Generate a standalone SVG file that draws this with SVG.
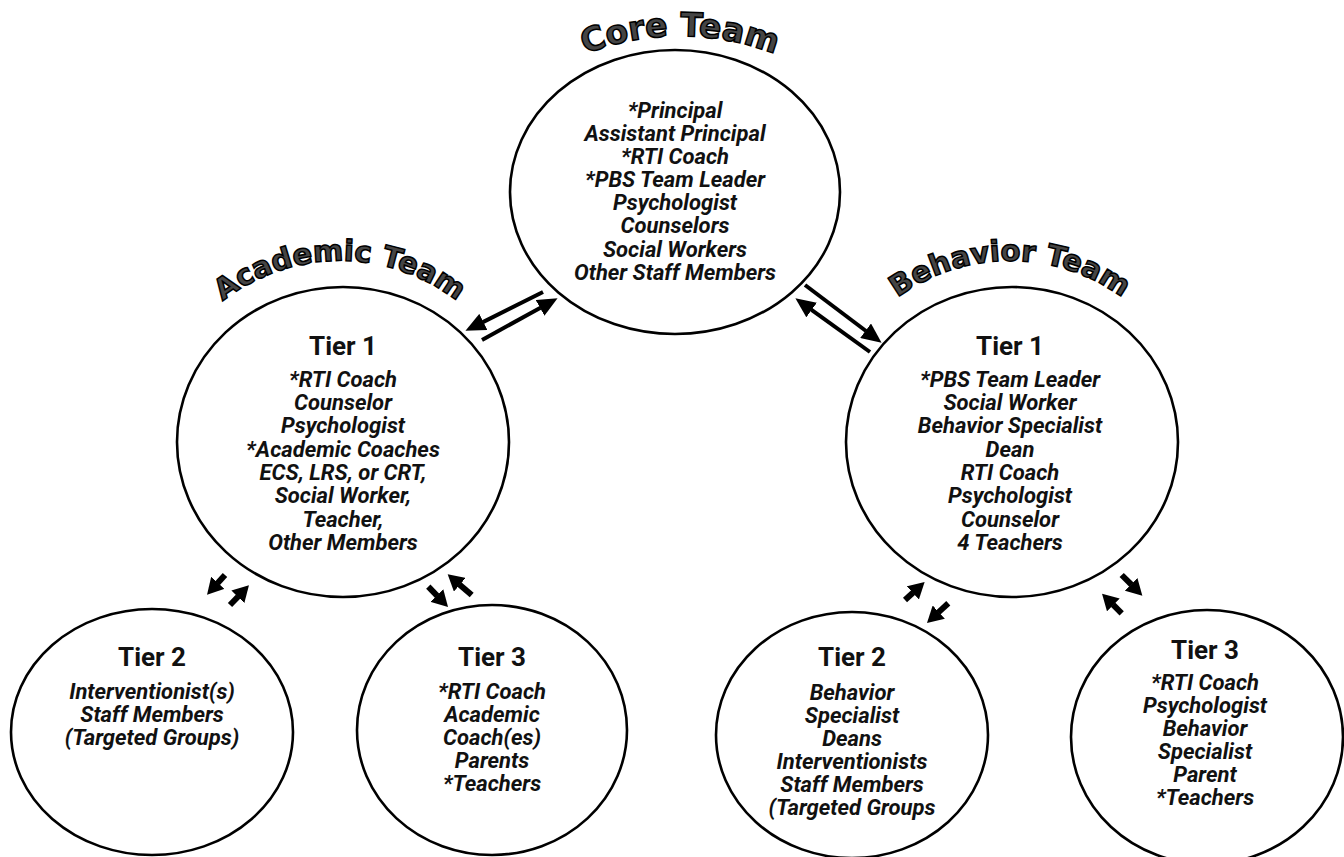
<svg xmlns="http://www.w3.org/2000/svg" width="1344" height="857" viewBox="0 0 1344 857">
<style>
.node ellipse{fill:#fff;stroke:#000;stroke-width:2.6}
.item{font-family:Roboto,"Liberation Sans",sans-serif;font-weight:bold;font-style:italic;font-size:22px;fill:#111;text-anchor:middle}
.head{font-family:Roboto,"Liberation Sans",sans-serif;font-weight:bold;font-size:26px;fill:#111;text-anchor:middle}
.title{font-family:"DejaVu Sans",sans-serif;font-weight:bold;fill:#454545;stroke:#000;stroke-width:1.5;text-anchor:middle}
.big{stroke:#000;stroke-width:4;fill:none;marker-end:url(#hb)}
.small{stroke:#000;stroke-width:6;fill:none;marker-end:url(#hs)}
</style>
<defs>
<marker id="hb" markerUnits="userSpaceOnUse" markerWidth="20" markerHeight="18" refX="0.5" refY="9" orient="auto"><path d="M0,0 L20,9 L0,18 Z" fill="#000"/></marker>
<marker id="hs" markerUnits="userSpaceOnUse" markerWidth="16" markerHeight="18" refX="0.5" refY="9" orient="auto"><path d="M0,0 L16,9 L0,18 Z" fill="#000"/></marker>
<path id="arcCore" d="M480,130 A260,260 0 0,1 880,130"/>
<path id="arcAcad" d="M160,390 A190,190 0 0,1 520,390"/>
<path id="arcBeh" d="M830,390 A190,190 0 0,1 1190,390"/>
</defs>
<rect width="1344" height="857" fill="#fff"/>

<g id="titles">
<text class="title" font-size="33"><textPath href="#arcCore" startOffset="50%">Core Team</textPath></text>
<text class="title" font-size="29"><textPath href="#arcAcad" startOffset="50%">Academic Team</textPath></text>
<text class="title" font-size="29"><textPath href="#arcBeh" startOffset="50%">Behavior Team</textPath></text>
</g>

<g id="core" class="node">
<ellipse cx="675" cy="192" rx="165" ry="142"/>
<text class="item" x="675" y="118">*Principal</text>
<text class="item" x="675" y="141">Assistant Principal</text>
<text class="item" x="675" y="164">*RTI Coach</text>
<text class="item" x="675" y="187">*PBS Team Leader</text>
<text class="item" x="675" y="210">Psychologist</text>
<text class="item" x="675" y="233">Counselors</text>
<text class="item" x="675" y="257">Social Workers</text>
<text class="item" x="675" y="280">Other Staff Members</text>
</g>

<g id="academic-tier1" class="node">
<ellipse cx="343" cy="442" rx="166" ry="155"/>
<text class="head" x="343" y="355">Tier 1</text>
<text class="item" x="343" y="387">*RTI Coach</text>
<text class="item" x="343" y="410">Counselor</text>
<text class="item" x="343" y="433">Psychologist</text>
<text class="item" x="343" y="457">*Academic Coaches</text>
<text class="item" x="343" y="480">ECS, LRS, or CRT,</text>
<text class="item" x="343" y="503">Social Worker,</text>
<text class="item" x="343" y="527">Teacher,</text>
<text class="item" x="343" y="550">Other Members</text>
</g>

<g id="behavior-tier1" class="node">
<ellipse cx="1012" cy="442" rx="166" ry="155"/>
<text class="head" x="1010" y="355">Tier 1</text>
<text class="item" x="1010" y="387">*PBS Team Leader</text>
<text class="item" x="1010" y="410">Social Worker</text>
<text class="item" x="1010" y="433">Behavior Specialist</text>
<text class="item" x="1010" y="457">Dean</text>
<text class="item" x="1010" y="480">RTI Coach</text>
<text class="item" x="1010" y="503">Psychologist</text>
<text class="item" x="1010" y="527">Counselor</text>
<text class="item" x="1010" y="550">4 Teachers</text>
</g>

<g id="academic-tier2" class="node">
<ellipse cx="152" cy="732" rx="141" ry="123"/>
<text class="head" x="152" y="666">Tier 2</text>
<text class="item" x="152" y="699">Interventionist(s)</text>
<text class="item" x="152" y="722">Staff Members</text>
<text class="item" x="152" y="745">(Targeted Groups)</text>
</g>

<g id="academic-tier3" class="node">
<ellipse cx="492" cy="730" rx="135" ry="125"/>
<text class="head" x="492" y="666">Tier 3</text>
<text class="item" x="492" y="699">*RTI Coach</text>
<text class="item" x="492" y="722">Academic</text>
<text class="item" x="492" y="745">Coach(es)</text>
<text class="item" x="492" y="768">Parents</text>
<text class="item" x="492" y="791">*Teachers</text>
</g>

<g id="behavior-tier2" class="node">
<ellipse cx="852" cy="735" rx="136" ry="123"/>
<text class="head" x="852" y="666">Tier 2</text>
<text class="item" x="852" y="700">Behavior</text>
<text class="item" x="852" y="723">Specialist</text>
<text class="item" x="852" y="746">Deans</text>
<text class="item" x="852" y="769">Interventionists</text>
<text class="item" x="852" y="792">Staff Members</text>
<text class="item" x="852" y="815">(Targeted Groups</text>
</g>

<g id="behavior-tier3" class="node">
<ellipse cx="1207" cy="737" rx="136" ry="127"/>
<text class="head" x="1205" y="659">Tier 3</text>
<text class="item" x="1205" y="690">*RTI Coach</text>
<text class="item" x="1205" y="713">Psychologist</text>
<text class="item" x="1205" y="736">Behavior</text>
<text class="item" x="1205" y="759">Specialist</text>
<text class="item" x="1205" y="782">Parent</text>
<text class="item" x="1205" y="805">*Teachers</text>
</g>

<g id="connectors">
<line class="big" x1="543" y1="292" x2="482.9" y2="322.1"/>
<line class="big" x1="482" y1="340" x2="540.5" y2="307.7"/>
<line class="big" x1="805" y1="285" x2="866" y2="331"/>
<line class="big" x1="870" y1="352" x2="811.2" y2="309.7"/>
<line class="small" x1="225" y1="575" x2="217.5" y2="583.2"/>
<line class="small" x1="230" y1="605" x2="238.2" y2="596.5"/>
<line class="small" x1="428.3" y1="586.7" x2="437.2" y2="595.8"/>
<line class="small" x1="471.7" y1="595" x2="459.4" y2="584.4"/>
<line class="small" x1="905" y1="600" x2="913.2" y2="592.5"/>
<line class="small" x1="948.3" y1="603.3" x2="938.4" y2="612.4"/>
<line class="small" x1="1121.7" y1="575" x2="1131.4" y2="584.7"/>
<line class="small" x1="1121.7" y1="613.3" x2="1113" y2="604.6"/>
</g>
</svg>
